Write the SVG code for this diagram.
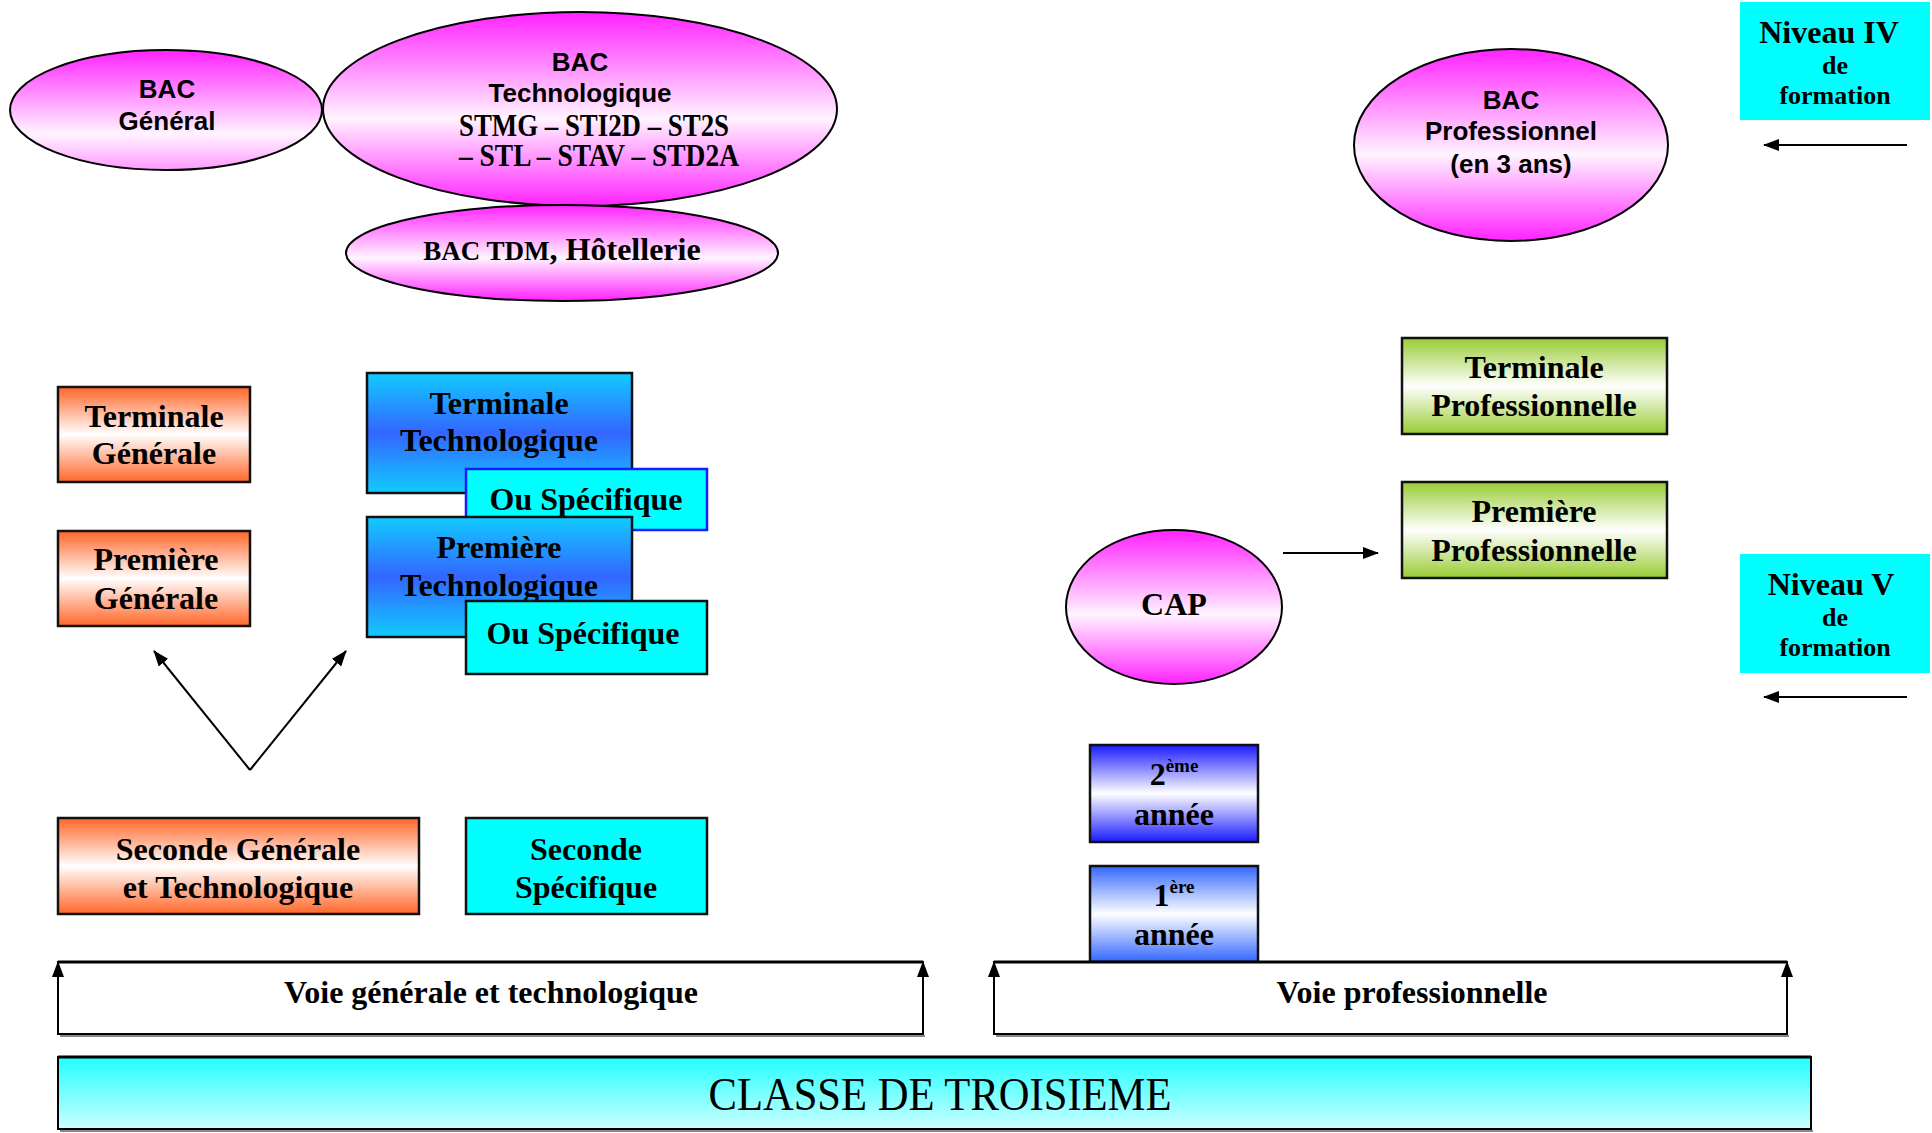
<svg xmlns="http://www.w3.org/2000/svg" width="1932" height="1133" viewBox="0 0 1932 1133">
<defs>
<linearGradient id="gMag" x1="0" y1="0" x2="0" y2="1"><stop offset="0" stop-color="#FF22FF"/><stop offset="0.55" stop-color="#FFF4FF"/><stop offset="1" stop-color="#FF22FF"/></linearGradient>
<linearGradient id="gMagG" x1="0" y1="0" x2="0" y2="1"><stop offset="0" stop-color="#FF22FF"/><stop offset="0.7" stop-color="#FFF4FF"/><stop offset="1" stop-color="#FF99FF"/></linearGradient>
<linearGradient id="gOr" x1="0" y1="0" x2="0" y2="1"><stop offset="0" stop-color="#FF6628"/><stop offset="0.5" stop-color="#FFFFFF"/><stop offset="1" stop-color="#FF6628"/></linearGradient>
<linearGradient id="gBlue" x1="0" y1="0" x2="0" y2="1"><stop offset="0" stop-color="#11CCFF"/><stop offset="0.5" stop-color="#3366FF"/><stop offset="1" stop-color="#11CCFF"/></linearGradient>
<linearGradient id="gGreen" x1="0" y1="0" x2="0" y2="1"><stop offset="0" stop-color="#99CC33"/><stop offset="0.5" stop-color="#FFFFFF"/><stop offset="1" stop-color="#99CC33"/></linearGradient>
<linearGradient id="gB2" x1="0" y1="0" x2="0" y2="1"><stop offset="0" stop-color="#1A1AFF"/><stop offset="0.5" stop-color="#FFFFFF"/><stop offset="1" stop-color="#1A1AFF"/></linearGradient>
<linearGradient id="gB1" x1="0" y1="0" x2="0" y2="1"><stop offset="0" stop-color="#3366FF"/><stop offset="0.5" stop-color="#FFFFFF"/><stop offset="1" stop-color="#3366FF"/></linearGradient>
<linearGradient id="gCls" x1="0" y1="0" x2="0" y2="1"><stop offset="0" stop-color="#22FFFF"/><stop offset="1" stop-color="#CCFFFF"/></linearGradient>
<marker id="arr" viewBox="0 0 16 12" refX="15" refY="6" markerWidth="16" markerHeight="12" markerUnits="userSpaceOnUse" orient="auto"><path d="M0,0 L16,6 L0,12 Z" fill="#000"/></marker>
</defs>
<style>
.box{stroke:#111;stroke-width:2.5}
.ell{stroke:#000;stroke-width:2}
.t{font-family:"Liberation Serif","Times New Roman",serif;font-weight:bold;font-size:32px;fill:#000;text-anchor:middle}
.a{font-family:"Liberation Sans",Arial,sans-serif;font-weight:bold;font-size:26px;fill:#000;text-anchor:middle}
.s{font-size:26px}
.ln{stroke:#000;stroke-width:2;fill:none}
</style>
<rect width="1932" height="1133" fill="#fff"/>

<g id="bac-general">
<ellipse class="ell" cx="166" cy="110" rx="156" ry="60" fill="url(#gMagG)"/>
<text class="a" x="167" y="98">BAC</text>
<text class="a" x="167" y="130">Général</text>
</g>
<g id="bac-techno">
<ellipse class="ell" cx="580" cy="109" rx="257" ry="97" fill="url(#gMag)"/>
<text class="a" x="580" y="71">BAC</text>
<text class="a" x="580" y="102">Technologique</text>
<text class="t" x="594" y="136" font-size="27" textLength="270" lengthAdjust="spacingAndGlyphs">STMG – STI2D – ST2S</text>
<text class="t" x="599" y="166" font-size="27" textLength="280" lengthAdjust="spacingAndGlyphs">– STL – STAV – STD2A</text>
</g>
<g id="bac-tdm">
<ellipse class="ell" cx="562" cy="253" rx="216" ry="48" fill="url(#gMag)"/>
<text class="t" x="562" y="260"><tspan font-size="27">BAC TDM</tspan>, Hôtellerie</text>
</g>
<g id="bac-pro">
<ellipse class="ell" cx="1511" cy="145" rx="157" ry="96" fill="url(#gMag)"/>
<text class="a" x="1511" y="109">BAC</text>
<text class="a" x="1511" y="140">Professionnel</text>
<text class="a" x="1511" y="173">(en 3 ans)</text>
</g>
<g id="niveau-iv">
<rect x="1740" y="2" width="190" height="118" fill="#00FFFF"/>
<text class="t" x="1829" y="43">Niveau IV</text>
<text class="t s" x="1835" y="74">de</text>
<text class="t s" x="1835" y="104">formation</text>
</g>
<g id="niveau-v">
<rect x="1740" y="554" width="190" height="119" fill="#00FFFF"/>
<text class="t" x="1831" y="595">Niveau V</text>
<text class="t s" x="1835" y="626">de</text>
<text class="t s" x="1835" y="656">formation</text>
</g>

<g id="terminale-generale">
<rect class="box" x="58" y="387" width="192" height="95" fill="url(#gOr)"/>
<text class="t" x="154" y="427">Terminale</text>
<text class="t" x="154" y="464">Générale</text>
</g>
<g id="premiere-generale">
<rect class="box" x="58" y="531" width="192" height="95" fill="url(#gOr)"/>
<text class="t" x="156" y="570">Première</text>
<text class="t" x="156" y="609">Générale</text>
</g>
<g id="terminale-techno">
<rect class="box" x="367" y="373" width="265" height="120" fill="url(#gBlue)"/>
<text class="t" x="499" y="414">Terminale</text>
<text class="t" x="499" y="451">Technologique</text>
</g>
<g id="ou-specifique-1">
<rect x="466" y="469" width="241" height="61" fill="#00FFFF" stroke="#1A1AFF" stroke-width="2.5"/>
<text class="t" x="586" y="510">Ou Spécifique</text>
</g>
<g id="premiere-techno">
<rect class="box" x="367" y="517" width="265" height="120" fill="url(#gBlue)"/>
<text class="t" x="499" y="558">Première</text>
<text class="t" x="499" y="596">Technologique</text>
</g>
<g id="ou-specifique-2">
<rect class="box" x="466" y="601" width="241" height="73" fill="#00FFFF"/>
<text class="t" x="583" y="644">Ou Spécifique</text>
</g>
<g id="seconde-gt">
<rect class="box" x="58" y="818" width="361" height="96" fill="url(#gOr)"/>
<text class="t" x="238" y="860">Seconde Générale</text>
<text class="t" x="238" y="898">et Technologique</text>
</g>
<g id="seconde-specifique">
<rect class="box" x="466" y="818" width="241" height="96" fill="#00FFFF"/>
<text class="t" x="586" y="860">Seconde</text>
<text class="t" x="586" y="898">Spécifique</text>
</g>

<g id="terminale-pro">
<rect class="box" x="1402" y="338" width="265" height="96" fill="url(#gGreen)"/>
<text class="t" x="1534" y="378">Terminale</text>
<text class="t" x="1534" y="416">Professionnelle</text>
</g>
<g id="premiere-pro">
<rect class="box" x="1402" y="482" width="265" height="96" fill="url(#gGreen)"/>
<text class="t" x="1534" y="522">Première</text>
<text class="t" x="1534" y="561">Professionnelle</text>
</g>
<g id="cap">
<ellipse class="ell" cx="1174" cy="607" rx="108" ry="77" fill="url(#gMag)"/>
<text class="t" x="1174" y="615">CAP</text>
</g>
<g id="deuxieme-annee">
<rect class="box" x="1090" y="745" width="168" height="97" fill="url(#gB2)"/>
<text class="t" x="1174" y="785">2<tspan font-size="19" dy="-13">ème</tspan></text>
<text class="t" x="1174" y="825">année</text>
</g>
<g id="premiere-annee">
<rect class="box" x="1090" y="866" width="168" height="96" fill="url(#gB1)"/>
<text class="t" x="1174" y="906">1<tspan font-size="19" dy="-13">ère</tspan></text>
<text class="t" x="1174" y="945">année</text>
</g>

<g id="voie-generale">
<line x1="60" y1="1036" x2="925" y2="1036" stroke="#888" stroke-width="2"/>
<rect x="58" y="962" width="865" height="72" fill="#fff" stroke="#000" stroke-width="2"/>
<line x1="58" y1="962" x2="923" y2="962" stroke="#000" stroke-width="3"/>
<text class="t" x="491" y="1003">Voie générale et technologique</text>
</g>
<g id="voie-pro">
<line x1="996" y1="1036" x2="1789" y2="1036" stroke="#888" stroke-width="2"/>
<rect x="994" y="962" width="793" height="72" fill="#fff" stroke="#000" stroke-width="2"/>
<line x1="994" y1="962" x2="1787" y2="962" stroke="#000" stroke-width="3"/>
<text class="t" x="1412" y="1003">Voie professionnelle</text>
</g>
<g id="classe-troisieme">
<line x1="60" y1="1131" x2="1813" y2="1131" stroke="#888" stroke-width="2"/>
<rect x="58" y="1057" width="1753" height="72" fill="url(#gCls)" stroke="#000" stroke-width="2"/>
<line x1="58" y1="1057" x2="1811" y2="1057" stroke="#000" stroke-width="3"/>
<text x="940" y="1110" font-family="'Liberation Serif','Times New Roman',serif" font-size="46" text-anchor="middle" textLength="463" lengthAdjust="spacingAndGlyphs">CLASSE DE TROISIEME</text>
</g>

<g id="connectors">
<line class="ln" x1="250" y1="770" x2="154" y2="651" marker-end="url(#arr)"/>
<line class="ln" x1="250" y1="770" x2="346" y2="651" marker-end="url(#arr)"/>
<line class="ln" x1="1283" y1="553" x2="1378" y2="553" marker-end="url(#arr)"/>
<line class="ln" x1="1907" y1="145" x2="1764" y2="145" marker-end="url(#arr)"/>
<line class="ln" x1="1907" y1="697" x2="1764" y2="697" marker-end="url(#arr)"/>
<line class="ln" x1="58" y1="1034" x2="58" y2="962" marker-end="url(#arr)"/>
<line class="ln" x1="923" y1="1034" x2="923" y2="962" marker-end="url(#arr)"/>
<line class="ln" x1="994" y1="1034" x2="994" y2="962" marker-end="url(#arr)"/>
<line class="ln" x1="1787" y1="1034" x2="1787" y2="962" marker-end="url(#arr)"/>
</g>
</svg>
